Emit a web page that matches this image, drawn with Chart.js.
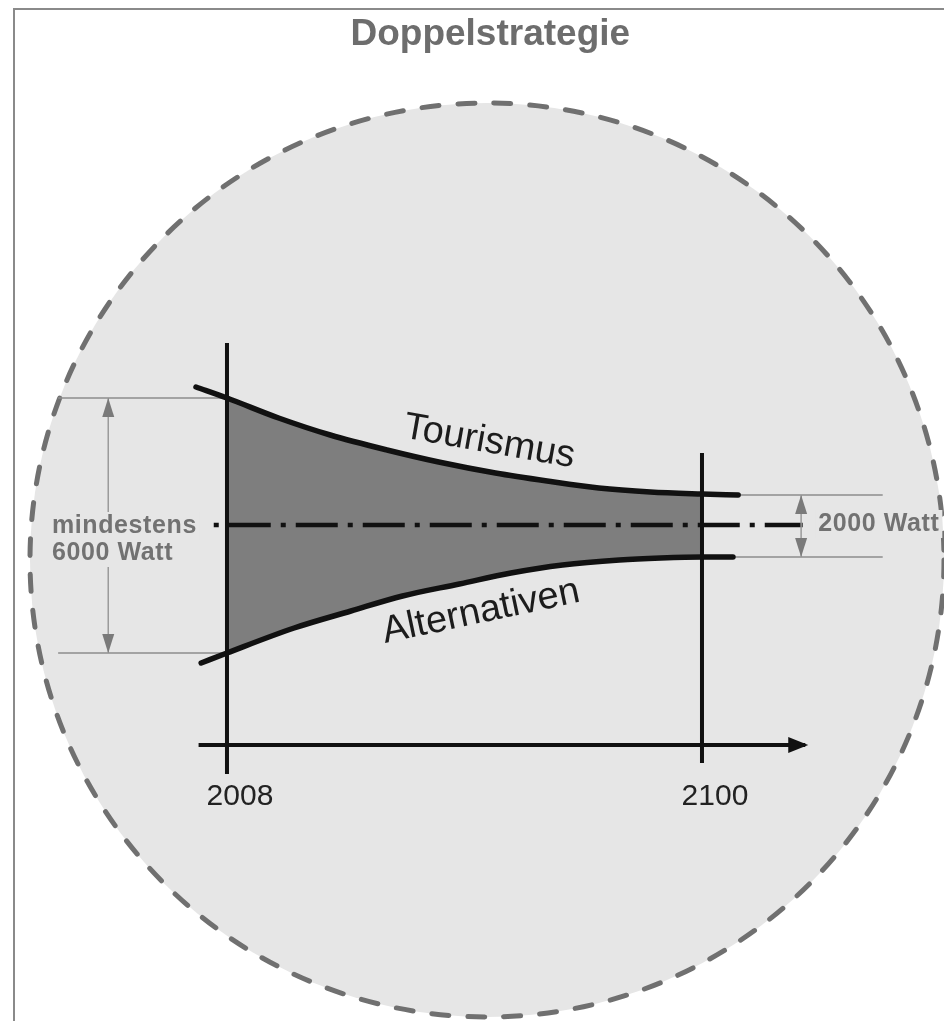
<!DOCTYPE html>
<html lang="de">
<head>
<meta charset="utf-8">
<title>Doppelstrategie</title>
<script src="https://cdn.jsdelivr.net/npm/chart.js@4.4.1/dist/chart.umd.min.js"></script>
<style>
    html, body { margin: 0; padding: 0; background: #fff; }
    #wrap { width: 944px; height: 1021px; }
</style>
</head>
<body>
<div id="wrap"><canvas id="chart" width="944" height="1021"></canvas></div>
<script>
// levels are relative to the 2000-Watt midline (0)
const tourismusYears = [2002, 2008, 2018, 2028, 2039, 2049, 2060, 2070, 2080, 2090, 2100, 2107];
const tourismusLevels = [138, 127, 107, 90, 75, 63, 52, 44, 37, 33, 31, 30];
const alternativenYears = [2003, 2008, 2021, 2032, 2042, 2053, 2063, 2073, 2084, 2092, 2100, 2106];
const alternativenLevels = [-138, -128, -103, -86, -71, -59, -48, -40, -35, -33, -32, -32];

const tickYears = [2008, 2100];
const fillRange = [2008, 2100];

// vertical axes at 2008 and 2100
const axisYears = [2008, 2100];
const axisTop = [182, 72];
const axisBottom = [-249, -238];

// time axis (arrow) and the dash-dot midline
const timeAxisYears = [2002.5, 2120];
const timeAxisLevel = -220;
const midlineYears = [2003.5, 2119.5];

// thin reference lines and span arrows
const refLeftYears = [1975.3, 2008];
const refLeftLevels = [127, -128];
const refRightYears = [2100, 2135];
const refRightLevels = [30, -32];
const spanArrowYears = [1985, 2119.2];
const spanArrowTop = [127, 30];
const spanArrowBottom = [-128, -32];

const curveLabels = ['Tourismus', 'Alternativen'];
const curveLabelYears = [2058.8, 2057.2];
const curveLabelLevels = [83, -87];
const curveLabelAngles = [10, -12];

const spanLabels = ['mindestens', '6000 Watt', '2000 Watt'];
const spanLabelYears = [1974.1, 1974.1, 2122.5];
const spanLabelLevels = [-1, -28, 1];

const FILL = '#7e7e7e';
const CIRCLE_BG = '#e6e6e6';
const FONT = 'Liberation Sans';

function points(xs, ys) {
    return xs.map((x, i) => ({ x: x, y: Array.isArray(ys) ? ys[i] : ys }));
}

function straight(data, color, width, extra) {
    return Object.assign({
        data: data,
        borderColor: color,
        borderWidth: width,
        pointRadius: 0,
        tension: 0,
        fill: false,
        clip: false
    }, extra || {});
}

function arrowHead(ctx, x, y, dx, dy, len, half) {
    ctx.beginPath();
    ctx.moveTo(x, y);
    ctx.lineTo(x - dx * len - dy * half, y - dy * len + dx * half);
    ctx.lineTo(x - dx * len + dy * half, y - dy * len - dx * half);
    ctx.closePath();
    ctx.fill();
}

const backdrop = {
    id: 'backdrop',
    beforeDraw(chart) {
        const ctx = chart.ctx;
        ctx.save();
        ctx.fillStyle = '#fff';
        ctx.fillRect(0, 0, chart.width, chart.height);
        // page frame
        ctx.strokeStyle = '#8a8a8a';
        ctx.lineWidth = 2;
        ctx.beginPath();
        ctx.moveTo(14, chart.height);
        ctx.lineTo(14, 9);
        ctx.lineTo(chart.width, 9);
        ctx.stroke();
        // dashed circle
        ctx.beginPath();
        ctx.arc(487, 560, 457, 0, Math.PI * 2);
        ctx.fillStyle = CIRCLE_BG;
        ctx.fill();
        ctx.setLineDash([17, 19]);
        ctx.lineCap = 'round';
        ctx.lineWidth = 5;
        ctx.strokeStyle = '#707070';
        ctx.stroke();
        ctx.restore();
    }
};

const annotations = {
    id: 'annotations',
    afterDatasetsDraw(chart) {
        const ctx = chart.ctx;
        const xs = chart.scales.x;
        const ys = chart.scales.y;
        ctx.save();

        // span arrows
        spanArrowYears.forEach((yr, i) => {
            const x = xs.getPixelForValue(yr);
            const top = ys.getPixelForValue(spanArrowTop[i]);
            const bottom = ys.getPixelForValue(spanArrowBottom[i]);
            ctx.strokeStyle = '#9a9a9a';
            ctx.lineWidth = 1.5;
            ctx.beginPath();
            ctx.moveTo(x, top);
            ctx.lineTo(x, bottom);
            ctx.stroke();
            ctx.fillStyle = '#7a7a7a';
            arrowHead(ctx, x, top, 0, -1, 19, 6);
            arrowHead(ctx, x, bottom, 0, 1, 19, 6);
        });

        // arrow tip of the time axis
        ctx.fillStyle = '#111';
        arrowHead(ctx, xs.getPixelForValue(timeAxisYears[1]) + 3, ys.getPixelForValue(timeAxisLevel), 1, 0, 20, 8);

        // gray span labels
        ctx.font = 'bold 25px "' + FONT + '"';
        ctx.letterSpacing = '0.6px';
        ctx.textBaseline = 'middle';
        ctx.textAlign = 'left';
        spanLabels.forEach((txt, i) => {
            const x = xs.getPixelForValue(spanLabelYears[i]);
            const y = ys.getPixelForValue(spanLabelLevels[i]);
            const w = ctx.measureText(txt).width;
            ctx.fillStyle = CIRCLE_BG;
            ctx.fillRect(x - 3, y - 14, w + 6, 28);
            ctx.fillStyle = '#727272';
            ctx.fillText(txt, x, y);
        });
        ctx.letterSpacing = '0px';

        // curve labels
        ctx.font = '38px "' + FONT + '"';
        ctx.textAlign = 'center';
        ctx.fillStyle = '#1c1c1c';
        curveLabels.forEach((txt, i) => {
            ctx.save();
            ctx.translate(xs.getPixelForValue(curveLabelYears[i]), ys.getPixelForValue(curveLabelLevels[i]));
            ctx.rotate(curveLabelAngles[i] * Math.PI / 180);
            ctx.fillText(txt, 0, 0);
            ctx.restore();
        });

        ctx.restore();
    }
};

const datasets = [
    {
        label: 'Tourismus',
        data: points(tourismusYears, tourismusLevels),
        borderColor: '#111',
        borderWidth: 5.5,
        borderCapStyle: 'round',
        backgroundColor: FILL,
        pointRadius: 0,
        cubicInterpolationMode: 'monotone',
        fill: '+1',
        clip: false,
        segment: {
            backgroundColor: c => (c.p0.parsed.x >= fillRange[0] && c.p1.parsed.x <= fillRange[1]) ? FILL : 'rgba(0,0,0,0)'
        }
    },
    {
        label: 'Alternativen',
        data: points(alternativenYears, alternativenLevels),
        borderColor: '#111',
        borderWidth: 5.5,
        borderCapStyle: 'round',
        pointRadius: 0,
        cubicInterpolationMode: 'monotone',
        fill: false,
        clip: false
    },
    straight(points(midlineYears, 0), '#111', 4.5, { borderDash: [42, 10, 5, 10], borderDashOffset: 42 }),
    straight(points([axisYears[0], axisYears[0]], [axisTop[0], axisBottom[0]]), '#111', 4),
    straight(points([axisYears[1], axisYears[1]], [axisTop[1], axisBottom[1]]), '#111', 4),
    straight(points(timeAxisYears, timeAxisLevel), '#111', 4),
    straight(points(refLeftYears, refLeftLevels[0]), '#8c8c8c', 1.5),
    straight(points(refLeftYears, refLeftLevels[1]), '#8c8c8c', 1.5),
    straight(points(refRightYears, refRightLevels[0]), '#8c8c8c', 1.5),
    straight(points(refRightYears, refRightLevels[1]), '#8c8c8c', 1.5)
];

new Chart(document.getElementById('chart'), {
    type: 'line',
    data: { datasets: datasets },
    options: {
        responsive: false,
        animation: false,
        events: [],
        layout: {
            autoPadding: false,
            // puts 2008 at x=227 and 2100 at x=702, time axis at y=745
            padding: { top: 0, left: 56.6, right: 20, bottom: 172 }
        },
        plugins: {
            legend: { display: false },
            tooltip: { enabled: false },
            filler: { drawTime: 'beforeDatasetsDraw' },
            title: {
                display: true,
                text: 'Doppelstrategie',
                color: '#6d6d6d',
                font: { family: FONT, size: 37, weight: 'bold', lineHeight: 1.2 },
                padding: { top: 12.8, bottom: 22.8 }
            }
        },
        scales: {
            x: {
                type: 'linear',
                min: 1975,
                max: 2143,
                border: { display: false },
                grid: { display: false, drawTicks: false },
                afterBuildTicks: axis => {
                    axis.ticks = tickYears.map(v => ({ value: v }));
                },
                ticks: {
                    callback: v => String(v),
                    color: '#222',
                    font: { family: FONT, size: 30, lineHeight: 1.2 },
                    padding: 34,
                    labelOffset: 13,
                    autoSkip: false,
                    maxRotation: 0
                }
            },
            y: {
                type: 'linear',
                display: false,
                min: -220,
                max: 445
            }
        }
    },
    plugins: [backdrop, annotations]
});
</script>
</body>
</html>
